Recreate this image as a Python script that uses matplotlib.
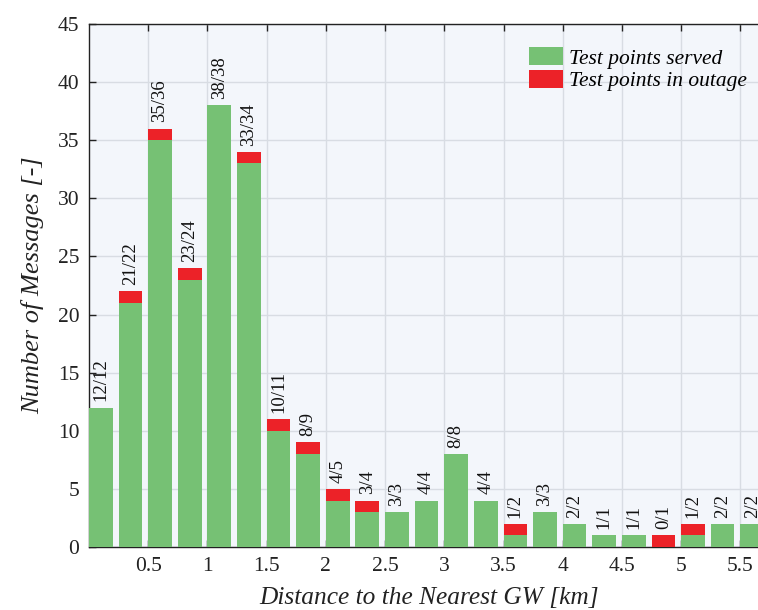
import matplotlib
matplotlib.use("Agg")
import matplotlib.pyplot as plt
import numpy as np

# Messages per 250 m distance bin
bin_starts = [0.0, 0.25, 0.5, 0.75, 1.0, 1.25, 1.5, 1.75, 2.0, 2.25, 2.5, 2.75,
              3.0, 3.25, 3.5, 3.75, 4.0, 4.25, 4.5, 4.75, 5.0, 5.25, 5.5]
served = [12, 21, 35, 23, 38, 33, 10, 8, 4, 3, 3, 4, 8, 4, 1, 3, 2, 1, 1, 0, 1, 2, 2]
total = [12, 22, 36, 24, 38, 34, 11, 9, 5, 4, 3, 4, 8, 4, 2, 3, 2, 1, 1, 1, 2, 2, 2]
outage = [t - s for t, s in zip(total, served)]

xticks = [0.5, 1, 1.5, 2, 2.5, 3, 3.5, 4, 4.5, 5, 5.5]
xticklabels = ["0.5", "1", "1.5", "2", "2.5", "3", "3.5", "4", "4.5", "5", "5.5"]
yticks = [0, 5, 10, 15, 20, 25, 30, 35, 40, 45]

plt.rcParams["font.family"] = ["Liberation Serif", "DejaVu Serif"]

GREEN = "#76c174"
RED = "#ec2228"

fig = plt.figure(figsize=(7.58, 6.10), dpi=100)
ax = fig.add_axes([89 / 758, 63 / 610, 681 / 758, 523 / 610])
ax.set_facecolor("#f3f6fb")

bar_w = 0.2
ax.bar(bin_starts, served, width=bar_w, align="edge", color=GREEN,
       linewidth=0, label="Test points served", zorder=3)
ax.bar(bin_starts, outage, width=bar_w, align="edge", bottom=served, color=RED,
       linewidth=0, label="Test points in outage", zorder=3)

for x0, s, t in zip(bin_starts, served, total):
    ax.annotate(f"{s}/{t}", xy=(x0 + bar_w / 2, t), xytext=(0, 4.5),
                textcoords="offset points", rotation=90, ha="center", va="bottom",
                fontsize=13.5, color="#111111", zorder=4)

ax.set_xlim(0, 5.75)
ax.set_ylim(0, 45)
ax.set_xticks(xticks)
ax.set_xticklabels(xticklabels)
ax.set_yticks(yticks)
ax.tick_params(axis="both", direction="in", length=5, width=1, labelsize=15.5,
               top=True, right=True, colors="#222222", pad=7)
ax.grid(True, color="#d8dce3", linewidth=1.0, zorder=0)
ax.set_axisbelow(True)
for side in ["left", "top", "bottom", "right"]:
    ax.spines[side].set_color("#222222")
    ax.spines[side].set_linewidth(1.0)

ax.set_xlabel("Distance to the Nearest GW [km]", fontsize=18.3, style="italic",
              color="#222222", labelpad=8)
ax.set_ylabel("Number of Messages [-]", fontsize=19, style="italic",
              color="#222222", labelpad=10)

leg = ax.legend(loc="upper right", bbox_to_anchor=(0.985, 0.98), frameon=False,
                prop={"style": "italic", "size": 15.5}, handlelength=1.55,
                handleheight=0.9, handletextpad=0.3, labelspacing=0.05,
                borderaxespad=0.2)

fig.savefig("out.png", dpi=100)
